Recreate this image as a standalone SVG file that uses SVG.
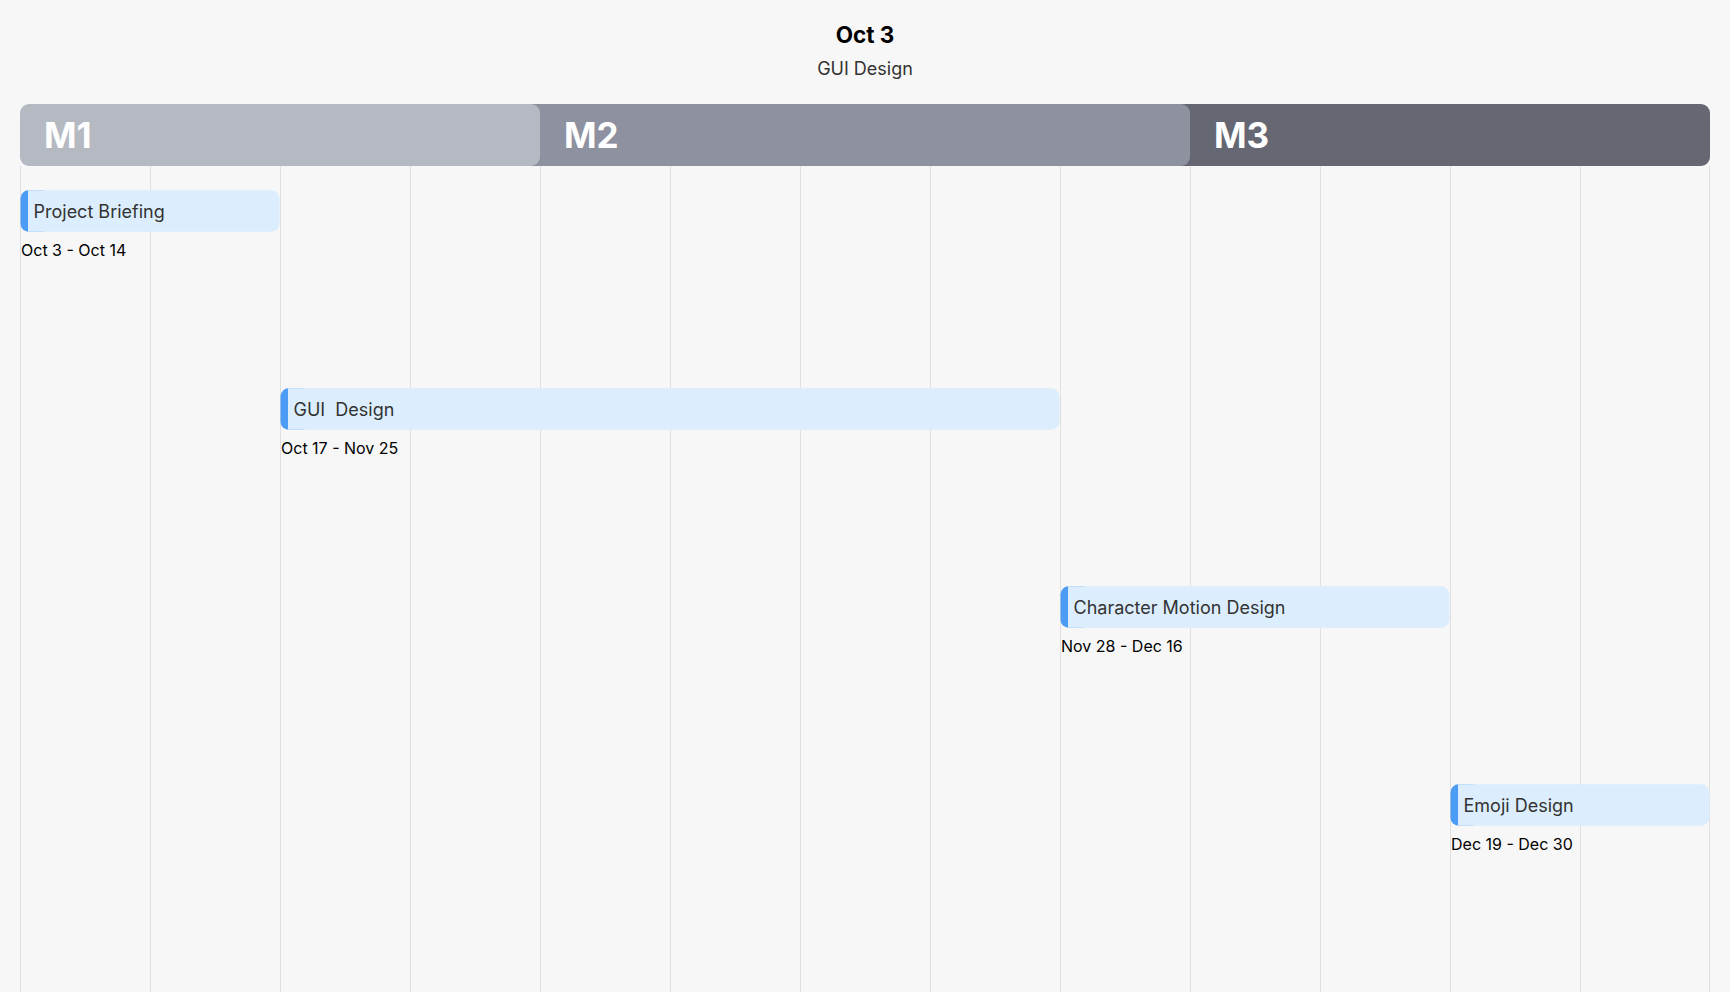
<svg xmlns="http://www.w3.org/2000/svg" width="1730" height="992" viewBox="0 0 1730 992">
<style>
text{font-family:Inter,"Noto Sans","Liberation Sans",sans-serif}
.title{font-size:22.5px;font-weight:700;fill:#000}
.sub{font-size:18px;fill:#333}
.ms{font-size:35px;font-weight:700;fill:#fff}
.grid{stroke:#e0e0e0;stroke-width:1}
.accent{fill:#4c9bf5}
.bar{fill:#dceefd}
.lbl{font-size:18px;fill:#333}
.date{font-size:16px;font-weight:400;fill:#000}
</style>
<rect width="1730" height="992" fill="#f7f7f7"/>
<g id="title">
<text class="title" x="865" y="43" text-anchor="middle">Oct 3</text>
<text class="sub" x="865" y="75" text-anchor="middle">GUI Design</text>
</g>
<g id="gridlines">
<line class="grid" x1="20.5" y1="166" x2="20.5" y2="992"/>
<line class="grid" x1="150.5" y1="166" x2="150.5" y2="992"/>
<line class="grid" x1="280.5" y1="166" x2="280.5" y2="992"/>
<line class="grid" x1="410.5" y1="166" x2="410.5" y2="992"/>
<line class="grid" x1="540.5" y1="166" x2="540.5" y2="992"/>
<line class="grid" x1="670.5" y1="166" x2="670.5" y2="992"/>
<line class="grid" x1="800.5" y1="166" x2="800.5" y2="992"/>
<line class="grid" x1="930.5" y1="166" x2="930.5" y2="992"/>
<line class="grid" x1="1060.5" y1="166" x2="1060.5" y2="992"/>
<line class="grid" x1="1190.5" y1="166" x2="1190.5" y2="992"/>
<line class="grid" x1="1320.5" y1="166" x2="1320.5" y2="992"/>
<line class="grid" x1="1450.5" y1="166" x2="1450.5" y2="992"/>
<line class="grid" x1="1580.5" y1="166" x2="1580.5" y2="992"/>
<line class="grid" x1="1709.5" y1="166" x2="1709.5" y2="992"/>
</g>
<g id="M3">
<rect x="1170" y="104" width="540" height="62" rx="9" fill="#656773"/>
<text class="ms" x="1214" y="148">M3</text>
</g>
<g id="M2">
<rect x="520" y="104" width="670" height="62" rx="9" fill="#8e919f"/>
<text class="ms" x="564" y="148">M2</text>
</g>
<g id="M1">
<rect x="20" y="104" width="520" height="62" rx="9" fill="#b5b9c2"/>
<text class="ms" x="44" y="148">M1</text>
</g>
<g id="connectors"></g>
<g id="task1">
<rect class="accent" x="20.5" y="190.3" width="30" height="41.4" rx="8"/>
<path class="bar" d="M28 190.3 H271.5 A8 8 0 0 1 279.5 198.3 V223.7 A8 8 0 0 1 271.5 231.7 H28 Z"/>
<text class="lbl" x="33.5" y="217.5">Project Briefing</text>
<text class="date" x="21" y="256">Oct 3 - Oct 14</text>
</g>
<g id="task2">
<rect class="accent" x="280.5" y="388.3" width="30" height="41.4" rx="8"/>
<path class="bar" d="M288 388.3 H1051.5 A8 8 0 0 1 1059.5 396.3 V421.7 A8 8 0 0 1 1051.5 429.7 H288 Z"/>
<text class="lbl" x="293.5" y="415.5" xml:space="preserve">GUI  Design</text>
<text class="date" x="281" y="454">Oct 17 - Nov 25</text>
</g>
<g id="task3">
<rect class="accent" x="1060.5" y="586.3" width="30" height="41.4" rx="8"/>
<path class="bar" d="M1068 586.3 H1441.5 A8 8 0 0 1 1449.5 594.3 V619.7 A8 8 0 0 1 1441.5 627.7 H1068 Z"/>
<text class="lbl" x="1073.5" y="613.5">Character Motion Design</text>
<text class="date" x="1061" y="652">Nov 28 - Dec 16</text>
</g>
<g id="task4">
<rect class="accent" x="1450.5" y="784.3" width="30" height="41.4" rx="8"/>
<path class="bar" d="M1458 784.3 H1701.5 A8 8 0 0 1 1709.5 792.3 V817.7 A8 8 0 0 1 1701.5 825.7 H1458 Z"/>
<text class="lbl" x="1463.5" y="811.5">Emoji Design</text>
<text class="date" x="1451" y="850">Dec 19 - Dec 30</text>
</g>
</svg>
